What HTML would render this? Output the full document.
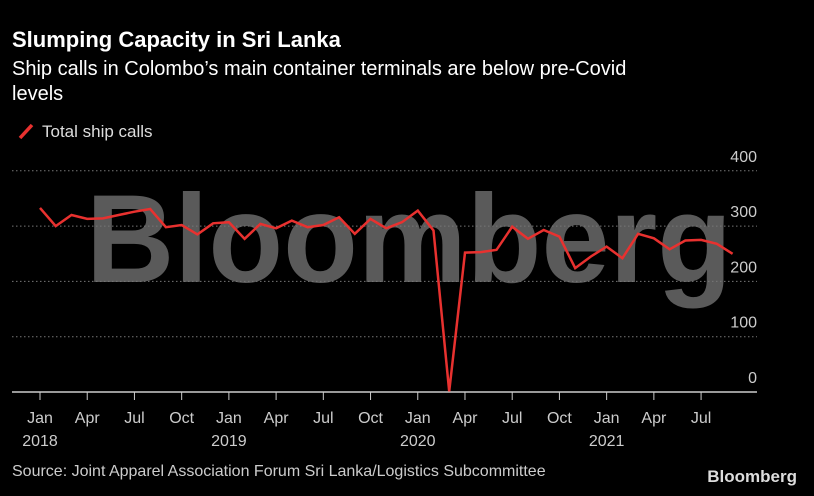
<!DOCTYPE html>
<html><head><meta charset="utf-8"><style>
html,body{margin:0;padding:0;background:#000;}
svg{display:block;}
text{font-family:"Liberation Sans Narrow","Liberation Sans",sans-serif;}
</style></head><body>
<svg width="814" height="496" viewBox="0 0 814 496">
<rect width="814" height="496" fill="#000"/>
<text x="12" y="47" style="font-family:'Liberation Sans',sans-serif" font-weight="bold" font-size="22" fill="#fff">Slumping Capacity in Sri Lanka</text>
<text x="12" y="75" style="font-family:'Liberation Sans',sans-serif" font-size="20" fill="#fff">Ship calls in Colombo’s main container terminals are below pre-Covid</text>
<text x="12" y="100" style="font-family:'Liberation Sans',sans-serif" font-size="20" fill="#fff">levels</text>
<g>
<line x1="20" y1="138" x2="32" y2="125" stroke="#e8312f" stroke-width="3.5"/>
<text x="42" y="137" style="font-family:'Liberation Sans',sans-serif" font-size="17" fill="#ddd">Total ship calls</text>
</g>
<text x="86" y="282" font-weight="bold" font-size="125" fill="#5a5a5a" textLength="646" lengthAdjust="spacingAndGlyphs" style="font-family:'Liberation Sans',sans-serif">Bloomberg</text>
<g id="grid"></g>
<g id="xaxis"></g>
<g id="series"></g>
<text x="12" y="476" font-size="16" fill="#ccc">Source: Joint Apparel Association Forum Sri Lanka/Logistics Subcommittee</text>
<text x="797" y="482" text-anchor="end" font-weight="bold" font-size="17" fill="#ddd">Bloomberg</text>
</svg>
<script>
const yTicks=[0,100,200,300,400];
const xTickLabels=["Jan","Apr","Jul","Oct","Jan","Apr","Jul","Oct","Jan","Apr","Jul","Oct","Jan","Apr","Jul"];
const yearLabels=["2018","2019","2020","2021"];
const shipCalls=[333,300,320,313,314,320,326,331,298,302,285,305,307,277,304,296,310,298,302,316,286,313,296,307,328,292,1,252,253,257,299,277,293,281,224,245,263,242,286,278,258,274,275,268,250];
const NS="http://www.w3.org/2000/svg";
const x0=40,dx=15.74,yZero=392,pxPer=0.553;
function xs(i){return x0+i*dx;}
function ys(v){return yZero-v*pxPer;}
function mk(t,a,p){const e=document.createElementNS(NS,t);for(const k in a)e.setAttribute(k,a[k]);p.appendChild(e);return e;}
const grid=document.getElementById('grid');
yTicks.forEach(v=>{
  if(v>0){const l=mk('line',{x1:12,x2:757,y1:ys(v),y2:ys(v),stroke:'#777','stroke-width':1,'stroke-dasharray':'1.5,2.5'},grid);
  
  }
  const t=mk('text',{x:757,y:ys(v)-9,'text-anchor':'end','font-size':16,fill:'#ccc'},grid);
  t.textContent=v;
  
  
});
const xa=document.getElementById('xaxis');
const ax=mk('line',{x1:12,x2:757,y1:yZero,y2:yZero,stroke:'#ccc','stroke-width':1.5},xa);


xTickLabels.forEach((s,i)=>{
  const x=xs(i*3);
  const tk=mk('line',{x1:x,x2:x,y1:yZero,y2:yZero+8,stroke:'#ccc','stroke-width':1},xa);
  
  
  const t=mk('text',{x:x,y:423,'text-anchor':'middle','font-size':16,fill:'#ccc'},xa);
  t.textContent=s;
  
  
});
yearLabels.forEach((s,i)=>{
  const t=mk('text',{x:xs(i*12),y:446,'text-anchor':'middle','font-size':16,fill:'#ccc'},xa);
  t.textContent=s;
  
  
});
const pts=shipCalls.map((v,i)=>xs(i).toFixed(1)+','+ys(v).toFixed(1)).join(' ');
const pl=mk('polyline',{points:pts,fill:'none',stroke:'#e8312f','stroke-width':2.5,'stroke-linejoin':'miter'},document.getElementById('series'));


</script>
</body></html>
